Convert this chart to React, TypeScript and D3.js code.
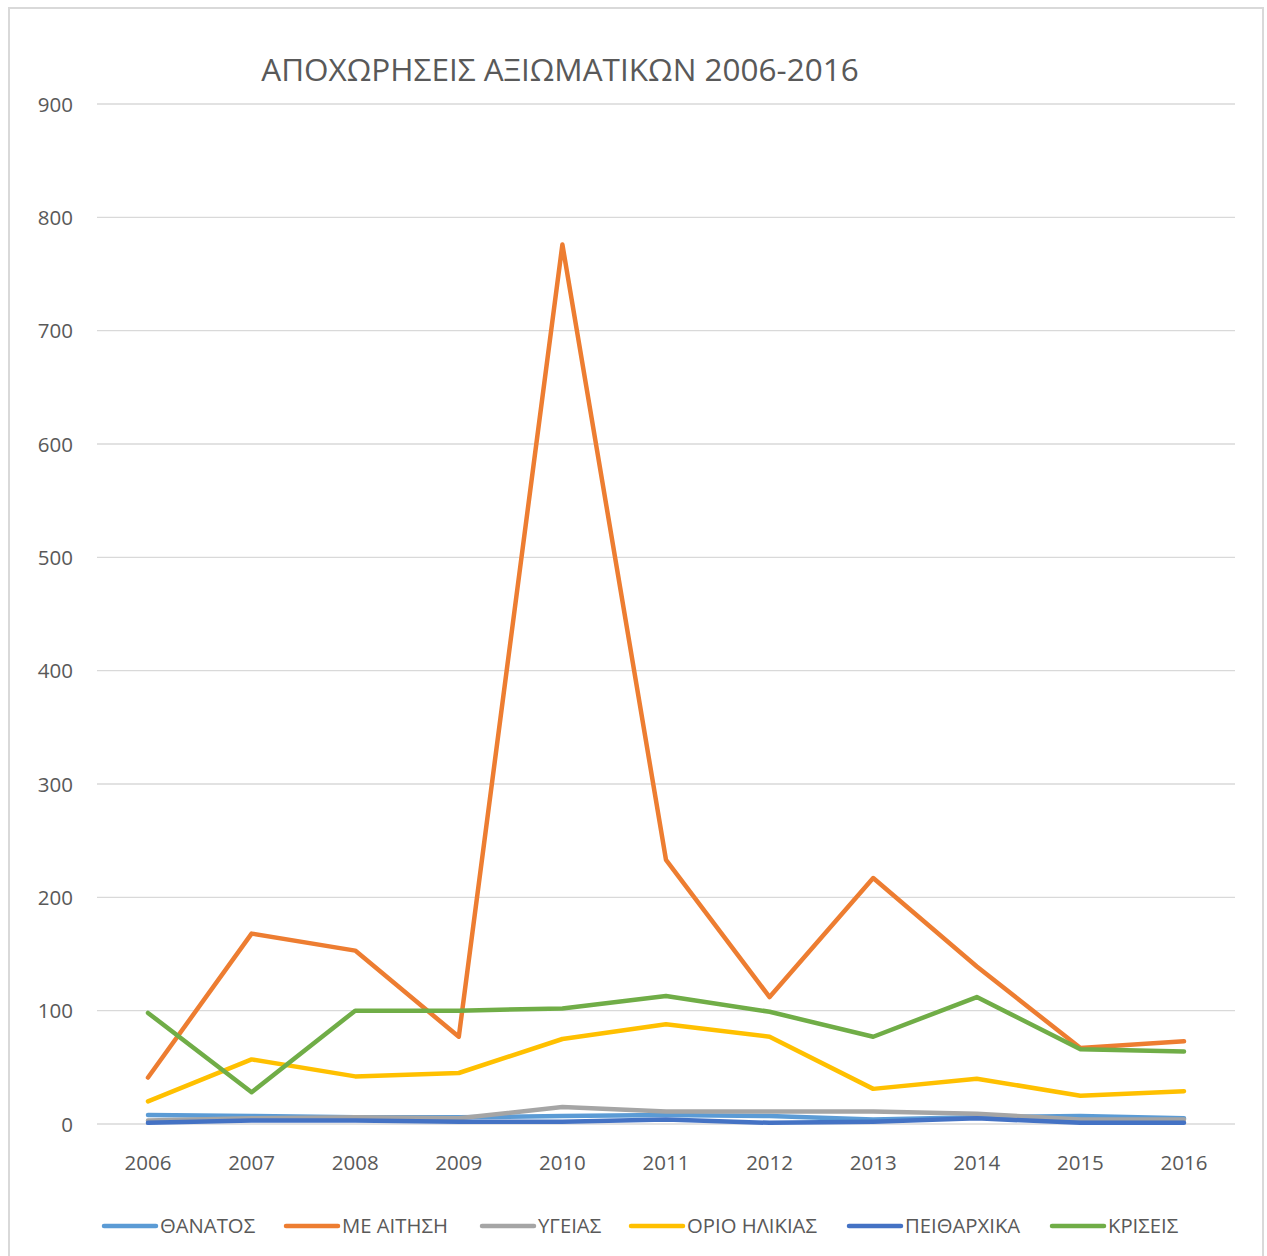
import React from "react";
import * as d3 from "d3";

const years = [2006, 2007, 2008, 2009, 2010, 2011, 2012, 2013, 2014, 2015, 2016];
const thanatos = [8, 7, 6, 6, 7, 8, 7, 4, 6, 7, 5];
const meAitisi = [41, 168, 153, 77, 776, 233, 112, 217, 139, 67, 73];
const ygeias = [3, 5, 6, 5, 15, 11, 11, 11, 9, 4, 4];
const orioIlikias = [20, 57, 42, 45, 75, 88, 77, 31, 40, 25, 29];
const peitharxika = [1, 3, 3, 2, 2, 4, 1, 2, 5, 1, 1];
const kriseis = [98, 28, 100, 100, 102, 113, 99, 77, 112, 66, 64];
const yTicks = [0, 100, 200, 300, 400, 500, 600, 700, 800, 900];

const series = [
  { name: "ΘΑΝΑΤΟΣ", values: thanatos, color: "#5b9bd5" },
  { name: "ΜΕ ΑΙΤΗΣΗ", values: meAitisi, color: "#ed7d31" },
  { name: "ΥΓΕΙΑΣ", values: ygeias, color: "#a5a5a5" },
  { name: "ΟΡΙΟ ΗΛΙΚΙΑΣ", values: orioIlikias, color: "#ffc000" },
  { name: "ΠΕΙΘΑΡΧΙΚΑ", values: peitharxika, color: "#4472c4" },
  { name: "ΚΡΙΣΕΙΣ", values: kriseis, color: "#70ad47" },
];

const legendX = [104, 286, 482, 631, 849, 1052];

export default function App() {
  const W = 1267, H = 1256;
  const x = d3.scaleLinear().domain([2006, 2016]).range([148, 1184]);
  const y = d3.scaleLinear().domain([0, 900]).range([1124, 104]);
  const line = d3.line<number>().x((_, i) => x(years[i])).y((d) => y(d));
  const font = "'Open Sans', 'Noto Sans', sans-serif";
  const txt = "#595959";
  return (
    <svg width={W} height={H} style={{ position: "absolute", left: 0, top: 0 }} fontFamily={font}>
      <rect x={0} y={0} width={W} height={H} fill="#fff" />
      <rect x={9} y={8} width={1254} height={1260} fill="none" stroke="#d9d9d9" strokeWidth={2} />
      <text x={560} y={81} textAnchor="middle" fontSize={31.5} fill={txt}>
        ΑΠΟΧΩΡΗΣΕΙΣ ΑΞΙΩΜΑΤΙΚΩΝ 2006-2016
      </text>
      {yTicks.map((t) => (
        <g key={t}>
          <line x1={97} x2={1235} y1={y(t)} y2={y(t)} stroke="#d9d9d9" strokeWidth={1.3} />
          <text x={73} y={y(t) + 7.5} textAnchor="end" fontSize={20.5} fill={txt}>{t}</text>
        </g>
      ))}
      {years.map((yr) => (
        <text key={yr} x={x(yr)} y={1170} textAnchor="middle" fontSize={20.5} fill={txt}>{yr}</text>
      ))}
      {series.map((s) => (
        <path key={s.name} d={line(s.values) || ""} fill="none" stroke={s.color} strokeWidth={4.5}
          strokeLinecap="round" strokeLinejoin="round" />
      ))}
      {series.map((s, i) => (
        <g key={s.name}>
          <line x1={legendX[i]} x2={legendX[i] + 52} y1={1226} y2={1226} stroke={s.color} strokeWidth={4.5} strokeLinecap="round" />
          <text x={legendX[i] + 56} y={1233} fontSize={20.3} fill={txt}>{s.name}</text>
        </g>
      ))}
    </svg>
  );
}
